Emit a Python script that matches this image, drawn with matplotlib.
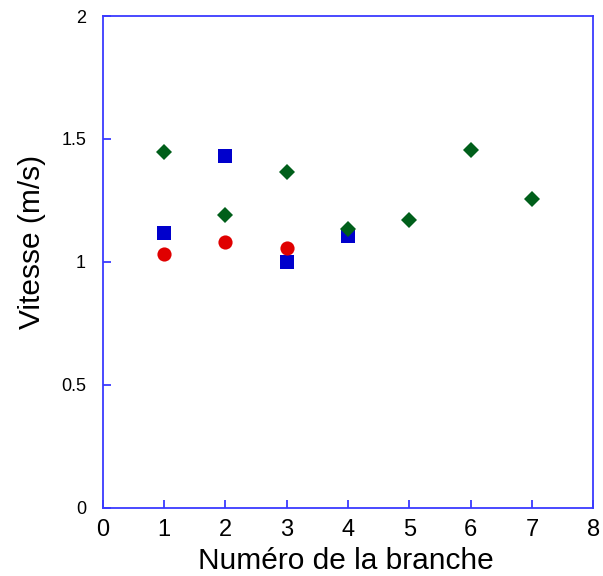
import matplotlib
matplotlib.use("Agg")
import matplotlib.pyplot as plt

plt.rcParams["font.family"] = ["Liberation Sans", "DejaVu Sans"]

# Vitesse par branche, trois series
branches_diamond = [1, 2, 3, 4, 5, 6, 7]
vitesse_diamond = [1.445, 1.19, 1.365, 1.135, 1.17, 1.457, 1.255]

branches_square = [1, 2, 3, 4]
vitesse_square = [1.118, 1.43, 1.0, 1.105]

branches_circle = [1, 2, 3]
vitesse_circle = [1.032, 1.082, 1.057]

x_ticks = [0, 1, 2, 3, 4, 5, 6, 7, 8]
y_ticks = [0, 0.5, 1, 1.5, 2]
y_ticklabels = ["0", "0.5", "1", "1.5", "2"]

axis_color = "#3a3aff"

fig = plt.figure(figsize=(6.03, 5.76), dpi=100)
ax = fig.add_axes([0.1703, 0.1186, 0.8137, 0.8536])

ax.plot(branches_square, vitesse_square, "s", color="#0000cc", markersize=9.6,
        markeredgewidth=0, linestyle="none")
ax.plot(branches_circle, vitesse_circle, "o", color="#e00000", markersize=10.2,
        markeredgewidth=0, linestyle="none")
ax.plot(branches_diamond, vitesse_diamond, "D", color="#005f1a", markersize=8,
        markeredgewidth=0, linestyle="none")

ax.set_xlim(0, 8)
ax.set_ylim(0, 2)
ax.set_xticks(x_ticks)
ax.set_yticks(y_ticks)
ax.set_yticklabels(y_ticklabels)

for s in ax.spines.values():
    s.set_color(axis_color)
    s.set_linewidth(1.3)

ax.tick_params(direction="in", length=6, width=1.3, color=axis_color)
ax.tick_params(axis="x", labelsize=17, pad=8)
ax.tick_params(axis="y", labelsize=13, pad=12)

ax.set_xlabel("Numéro de la branche", fontsize=21.5)
ax.set_ylabel("Vitesse (m/s)", fontsize=21.5)
ax.xaxis.set_label_coords(0.495, -0.079)
ax.yaxis.set_label_coords(-0.116, 0.54)

fig.savefig("out.png", dpi=100)
